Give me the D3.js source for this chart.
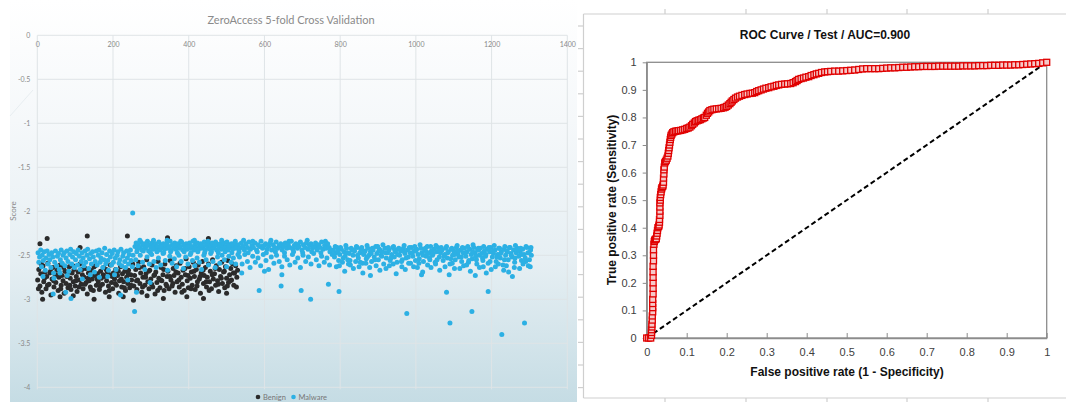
<!DOCTYPE html>
<html><head><meta charset="utf-8">
<script src="https://cdn.jsdelivr.net/npm/d3@7"></script>
<style>body{margin:0;background:#fff}svg{display:block}</style>
</head><body>
<svg id="c" width="1066" height="402"></svg>
<script>
// ---------- Left chart data ----------
const leftTitle = "ZeroAccess 5-fold Cross Validation";
const indexTicks = [0,200,400,600,800,1000,1200,1400];
const scoreTicks = [0,-0.5,-1,-1.5,-2,-2.5,-3,-3.5,-4];
const seriesNames = ["Benign","Malware"];

const benign = [
[1,-2.78],[4,-2.66],[7,-2.85],[9,-2.71],[12,-2.92],[15,-2.62],[17,-2.80],[20,-2.69],[23,-2.88],[25,-2.74],[28,-2.59],[31,-2.83],[33,-2.70],[36,-2.95],[39,-2.77],[41,-2.64],[44,-2.86],[47,-2.72],[49,-2.81],[52,-2.67],[55,-2.90],[57,-2.75],[60,-2.61],[63,-2.84],[65,-2.73],[68,-2.79],[71,-2.93],[73,-2.68],[76,-2.82],[79,-2.71],[81,-2.87],[84,-2.63],[87,-2.76],[89,-2.89],[92,-2.70],[95,-2.80],[97,-2.66],[100,-2.85],[103,-2.74],[105,-2.91],[108,-2.69],[111,-2.78],[113,-2.60],[116,-2.83],[119,-2.72],[121,-2.88],[124,-2.75],[127,-2.65],[129,-2.81],[132,-2.94],[135,-2.70],[137,-2.79],[140,-2.86],[143,-2.67],[145,-2.77],[148,-2.90],[151,-2.73],[153,-2.62],[156,-2.84],[159,-2.71],[161,-2.80],[164,-2.89],[167,-2.68],[169,-2.76],[172,-2.83],[175,-2.64],[177,-2.74],[180,-2.92],[183,-2.79],[185,-2.69],[188,-2.85],[191,-2.72],[193,-2.61],[196,-2.81],[199,-2.88],[201,-2.70],[204,-2.77],[207,-2.66],[209,-2.84],[212,-2.73],[215,-2.93],[217,-2.79],[220,-2.63],[223,-2.86],[225,-2.71],[228,-2.80],[231,-2.68],[233,-2.90],[236,-2.75],[239,-2.82],[241,-2.67],[244,-2.87],[247,-2.72],[249,-2.78],[252,-2.60],
[255,-2.85],[257,-2.73],[260,-2.66],[263,-2.89],[265,-2.78],[268,-2.58],[271,-2.82],[273,-2.70],[276,-2.92],[279,-2.75],[281,-2.63],[284,-2.84],[287,-2.71],[289,-2.55],[292,-2.80],[295,-2.88],[297,-2.67],[300,-2.77],[303,-2.61],[305,-2.86],[308,-2.73],[311,-2.94],[313,-2.69],[316,-2.81],[319,-2.57],[321,-2.76],[324,-2.87],[327,-2.64],[329,-2.79],[332,-2.72],[335,-2.90],[337,-2.60],[340,-2.83],[343,-2.74],[345,-2.68],[348,-2.88],[351,-2.56],[353,-2.78],[356,-2.85],[359,-2.65],[361,-2.73],[364,-2.92],[367,-2.62],[369,-2.80],[372,-2.70],[375,-2.86],[377,-2.59],[380,-2.75],[383,-2.83],[385,-2.67],[388,-2.90],[391,-2.72],[393,-2.54],[396,-2.79],[399,-2.87],[401,-2.63],[404,-2.76],[407,-2.69],[409,-2.84],[412,-2.58],[415,-2.74],[417,-2.89],[420,-2.66],[423,-2.80],[425,-2.61],[428,-2.77],[431,-2.93],[433,-2.70],[436,-2.57],[439,-2.82],[441,-2.73],[444,-2.64],[447,-2.86],[449,-2.75],[452,-2.60],[455,-2.80],[457,-2.68],[460,-2.88],[463,-2.55],[465,-2.77],[468,-2.71],[471,-2.84],[473,-2.62],[476,-2.79],[479,-2.91],[481,-2.66],[484,-2.74],[487,-2.58],[489,-2.82],[492,-2.69],[495,-2.87],[497,-2.63],[500,-2.76],[503,-2.56],[505,-2.81],[508,-2.72],[511,-2.65],[513,-2.78],[516,-2.60],[519,-2.84],[521,-2.70],[524,-2.62],[527,-2.75],[529,-2.67],
[3,-2.88],[10,-2.60],[19,-2.76],[27,-2.84],[35,-2.68],[43,-2.79],[54,-2.73],[62,-2.88],[70,-2.64],[78,-2.74],[86,-2.84],[94,-2.62],[102,-2.79],[110,-2.86],[118,-2.66],[126,-2.83],[134,-2.76],[142,-2.89],[150,-2.63],[158,-2.77],[166,-2.85],[174,-2.72],[182,-2.66],[190,-2.90],[198,-2.74],[206,-2.82],[214,-2.68],[222,-2.77],[230,-2.87],[240,-2.71],[248,-2.84],[262,-2.79],[270,-2.64],[278,-2.86],[286,-2.75],[294,-2.68],[302,-2.83],[310,-2.72],[318,-2.90],[326,-2.78],[334,-2.66],[342,-2.85],[350,-2.74],[358,-2.82],[366,-2.69],[374,-2.78],[382,-2.92],[390,-2.65],[398,-2.73],[406,-2.88],[414,-2.68],[422,-2.85],[430,-2.74],[438,-2.67],[446,-2.80],[454,-2.90],[462,-2.72],[470,-2.65],[478,-2.83],[486,-2.76],[494,-2.68],[502,-2.85],[510,-2.79],[518,-2.70],[526,-2.86],
[7,-2.37],[26,-2.31],[113,-2.41],[132,-2.28],[238,-2.28],[344,-2.30],[452,-2.31],[14,-3.0],[150,-3.0],[254,-3.01],[227,-2.97],[333,-2.99],[439,-2.99],[60,-2.97],[95,-2.96],[190,-2.97],[290,-2.96],[395,-2.97],[500,-2.93]
];

const malware = [
[2,-2.47],[4,-2.58],[6,-2.52],[9,-2.44],[11,-2.63],[13,-2.50],[16,-2.56],[18,-2.46],[21,-2.67],[23,-2.53],[26,-2.45],[28,-2.60],[31,-2.49],[33,-2.55],[36,-2.64],[38,-2.47],[41,-2.52],[43,-2.70],[46,-2.58],[48,-2.45],[51,-2.62],[53,-2.51],[56,-2.48],[58,-2.66],[61,-2.55],[63,-2.44],[66,-2.59],[68,-2.50],[71,-2.47],[73,-2.62],[76,-2.53],[78,-2.45],[81,-2.57],[83,-2.68],[86,-2.49],[88,-2.43],[91,-2.60],[93,-2.52],[96,-2.46],[98,-2.64],[101,-2.55],[103,-2.48],[106,-2.61],[108,-2.44],[111,-2.51],[113,-2.66],[116,-2.57],[118,-2.47],[121,-2.53],[123,-2.62],[126,-2.45],[128,-2.58],[131,-2.50],[133,-2.43],[136,-2.65],[138,-2.54],[141,-2.48],[143,-2.60],[146,-2.46],[148,-2.52],[151,-2.69],[153,-2.57],[156,-2.45],[158,-2.61],[161,-2.50],[163,-2.44],[166,-2.58],[168,-2.53],[171,-2.47],[173,-2.64],[176,-2.55],[178,-2.42],[181,-2.60],[183,-2.49],[186,-2.56],[188,-2.67],[191,-2.45],[193,-2.52],[196,-2.61],[198,-2.48],[201,-2.58],[203,-2.44],[206,-2.53],[208,-2.66],[211,-2.50],[213,-2.46],[216,-2.59],[218,-2.55],[221,-2.43],[223,-2.62],[226,-2.51],[228,-2.47],[231,-2.57],[233,-2.64],[236,-2.45],[238,-2.53],[241,-2.60],[243,-2.49],[246,-2.44],[248,-2.56],[251,-2.63],[253,-2.50],
[15,-2.74],[44,-2.76],[79,-2.73],[119,-2.77],[164,-2.75],[204,-2.72],[239,-2.78],[60,-2.70],[140,-2.72],[186,-2.74],
[42,-2.94],[89,-2.99],[75,-2.92],[220,-2.95],[262,-2.92],[252,-2.02],[257,-3.14],[298,-2.81],
[258,-2.40],[261,-2.36],[264,-2.43],[267,-2.38],[270,-2.41],[273,-2.35],[276,-2.44],[279,-2.39],[282,-2.37],[285,-2.42],[288,-2.40],[291,-2.34],[294,-2.45],[297,-2.38],[300,-2.41],[303,-2.36],[306,-2.43],[309,-2.39],[312,-2.37],[315,-2.42],[318,-2.40],[321,-2.35],[324,-2.44],[327,-2.38],[330,-2.41],[333,-2.37],[336,-2.43],[339,-2.39],[342,-2.36],[345,-2.42],[348,-2.40],[351,-2.34],[354,-2.44],[357,-2.38],[360,-2.41],[363,-2.36],[366,-2.43],[369,-2.39],[372,-2.37],[375,-2.42],[378,-2.40],[381,-2.35],[384,-2.44],[387,-2.38],[390,-2.41],[393,-2.37],[396,-2.43],[399,-2.39],[402,-2.36],[405,-2.42],[408,-2.40],[411,-2.34],[414,-2.44],[417,-2.38],[420,-2.41],[423,-2.36],[426,-2.43],[429,-2.39],[432,-2.37],[435,-2.42],[438,-2.40],[441,-2.35],[444,-2.44],[447,-2.38],[450,-2.41],[453,-2.37],[456,-2.43],[459,-2.39],[462,-2.36],[465,-2.42],[468,-2.40],[471,-2.35],[474,-2.44],[477,-2.38],[480,-2.41],[483,-2.37],[486,-2.43],[489,-2.39],[492,-2.36],[495,-2.42],[498,-2.40],[501,-2.35],[504,-2.44],[507,-2.38],[510,-2.41],[513,-2.37],[516,-2.43],[519,-2.39],[522,-2.36],[525,-2.42],[528,-2.40],
[263,-2.46],[271,-2.33],[280,-2.45],[289,-2.38],[299,-2.47],[307,-2.33],[316,-2.46],[325,-2.40],[334,-2.47],[343,-2.33],[352,-2.46],[361,-2.39],[370,-2.47],[379,-2.34],[388,-2.46],[397,-2.40],[406,-2.47],[415,-2.33],[424,-2.46],[433,-2.39],[442,-2.47],[451,-2.34],[460,-2.46],[469,-2.38],[478,-2.47],[487,-2.33],[496,-2.46],[505,-2.39],[514,-2.47],[523,-2.34],[533,-2.46],[545,-2.33],[557,-2.47],[569,-2.34],[581,-2.46],[593,-2.40],[605,-2.47],[617,-2.33],[629,-2.46],[641,-2.40],[653,-2.47],[665,-2.34],[677,-2.46],[689,-2.39],[701,-2.47],[713,-2.33],[725,-2.46],[737,-2.40],[749,-2.47],[761,-2.34],[773,-2.46],
[260,-2.55],[266,-2.62],[272,-2.50],[278,-2.58],[284,-2.66],[290,-2.52],[296,-2.60],[302,-2.49],[308,-2.57],[314,-2.64],[320,-2.53],[326,-2.61],[332,-2.48],[338,-2.56],[344,-2.67],[350,-2.51],[356,-2.59],[362,-2.54],[368,-2.63],[374,-2.50],[380,-2.57],[386,-2.65],[392,-2.52],[398,-2.60],[404,-2.49],[410,-2.56],[416,-2.62],[422,-2.53],[428,-2.58],[434,-2.66],[440,-2.50],[446,-2.55],[452,-2.61],[458,-2.48],[464,-2.57],[470,-2.64],[476,-2.52],[482,-2.59],[488,-2.50],[494,-2.55],[500,-2.63],[506,-2.51],[512,-2.58],[518,-2.53],[524,-2.60],[530,-2.49],
[531,-2.38],[535,-2.42],[539,-2.36],[543,-2.40],[547,-2.44],[551,-2.37],[555,-2.41],[559,-2.35],[563,-2.43],[567,-2.39],[571,-2.41],[575,-2.36],[579,-2.44],[583,-2.38],[587,-2.40],[591,-2.34],[595,-2.42],[599,-2.39],[603,-2.37],[607,-2.43],[611,-2.40],[615,-2.36],[619,-2.44],[623,-2.38],[627,-2.41],[631,-2.35],[635,-2.42],[639,-2.39],[643,-2.37],[647,-2.44],[651,-2.40],[655,-2.36],[659,-2.42],[663,-2.38],[667,-2.41],[671,-2.34],[675,-2.43],[679,-2.39],[683,-2.37],[687,-2.42],[691,-2.40],[695,-2.35],[699,-2.44],[703,-2.38],[707,-2.41],[711,-2.36],[715,-2.43],[719,-2.39],[723,-2.37],[727,-2.42],[731,-2.40],[735,-2.36],[739,-2.44],[743,-2.38],[747,-2.41],[751,-2.35],[755,-2.43],[759,-2.39],[763,-2.42],[767,-2.37],[771,-2.41],[775,-2.44],
[534,-2.52],[541,-2.60],[548,-2.49],[555,-2.57],[562,-2.64],[569,-2.51],[576,-2.58],[583,-2.53],[590,-2.62],[597,-2.49],[604,-2.56],[611,-2.66],[618,-2.52],[625,-2.59],[632,-2.50],[639,-2.57],[646,-2.63],[653,-2.51],[660,-2.55],[667,-2.61],[674,-2.49],[681,-2.58],[688,-2.53],[695,-2.64],[702,-2.50],[709,-2.57],[716,-2.52],[723,-2.60],[730,-2.48],[737,-2.55],[744,-2.62],[751,-2.51],[758,-2.58],[765,-2.53],[772,-2.61],[779,-2.49],
[586,-2.90],[644,-2.85],[646,-2.72],[697,-2.90],[722,-3.0],[769,-2.83],[797,-2.91],[600,-2.68],[540,-2.70],
[782,-2.44],[785,-2.52],[789,-2.47],[792,-2.41],[796,-2.56],[799,-2.49],[803,-2.43],[806,-2.58],[810,-2.46],[813,-2.51],[817,-2.42],[820,-2.55],[824,-2.48],[827,-2.61],[831,-2.44],[834,-2.50],[838,-2.45],[841,-2.57],[845,-2.41],[848,-2.53],[852,-2.47],[855,-2.43],[859,-2.59],[862,-2.49],[866,-2.45],[869,-2.54],[873,-2.42],[876,-2.50],[880,-2.46],[883,-2.57],[887,-2.44],[890,-2.52],[894,-2.40],[897,-2.48],[901,-2.55],[904,-2.43],[908,-2.50],[911,-2.46],[915,-2.60],[918,-2.42],[922,-2.53],[925,-2.47],[929,-2.44],[932,-2.56],[936,-2.49],[939,-2.41],[943,-2.52],[946,-2.46],[950,-2.58],[953,-2.43],[957,-2.50],[960,-2.45],[964,-2.55],[967,-2.42],[971,-2.48],[974,-2.53],[978,-2.44],[981,-2.59],[985,-2.47],[988,-2.41],[992,-2.51],[995,-2.45],[999,-2.56],[1002,-2.43],[1006,-2.49],[1009,-2.54],[1013,-2.42],[1016,-2.47],[1020,-2.57],[1023,-2.44],[1027,-2.51],[1030,-2.40],[1034,-2.48],[1037,-2.55],[1041,-2.45],[1044,-2.50],[1048,-2.43],[1051,-2.58],[1055,-2.46],[1058,-2.41],[1062,-2.52],[1065,-2.47],[1069,-2.44],[1072,-2.56],[1076,-2.49],[1079,-2.42],[1083,-2.53],[1086,-2.46],[1090,-2.60],[1093,-2.43],[1097,-2.50],[1100,-2.45],[1104,-2.55],[1107,-2.41],[1111,-2.48],[1114,-2.52],[1118,-2.44],[1121,-2.57],[1125,-2.47],[1128,-2.42],[1132,-2.51],[1135,-2.46],[1139,-2.58],[1142,-2.43],[1146,-2.49],[1149,-2.54],[1153,-2.41],[1156,-2.47],[1160,-2.55],[1163,-2.44],[1167,-2.50],[1170,-2.42],[1174,-2.48],[1177,-2.56],[1181,-2.45],[1184,-2.51],[1188,-2.43],[1191,-2.59],[1195,-2.46],[1198,-2.41],[1202,-2.52],[1205,-2.48],[1209,-2.44],[1212,-2.57],[1216,-2.49],[1219,-2.42],[1223,-2.53],[1226,-2.46],[1230,-2.61],[1233,-2.43],[1237,-2.50],[1240,-2.45],[1244,-2.55],[1247,-2.41],[1251,-2.48],[1254,-2.52],[1258,-2.44],[1261,-2.58],[1265,-2.47],[1268,-2.42],[1272,-2.51],[1275,-2.46],[1279,-2.56],[1282,-2.43],[1286,-2.49],[1289,-2.53],[1293,-2.41],[1296,-2.47],[1300,-2.55],[1303,-2.44],[1305,-2.50],
[787,-2.40],[801,-2.41],[815,-2.39],[829,-2.42],[843,-2.40],[857,-2.41],[871,-2.39],[885,-2.42],[899,-2.40],[913,-2.38],[927,-2.41],[941,-2.40],[955,-2.42],[969,-2.39],[983,-2.41],[997,-2.40],[1011,-2.38],[1025,-2.42],[1039,-2.40],[1053,-2.39],[1067,-2.41],[1081,-2.40],[1095,-2.42],[1109,-2.39],[1123,-2.41],[1137,-2.40],[1151,-2.38],[1165,-2.42],[1179,-2.40],[1193,-2.41],[1207,-2.39],[1221,-2.42],[1235,-2.40],[1249,-2.41],[1263,-2.39],[1277,-2.42],[1291,-2.40],[1304,-2.41],
[784,-2.49],[794,-2.45],[808,-2.53],[819,-2.47],[826,-2.56],[836,-2.44],[846,-2.50],[853,-2.58],[864,-2.46],[872,-2.52],[882,-2.48],[892,-2.55],[902,-2.45],[910,-2.51],[920,-2.47],[934,-2.53],[944,-2.44],[952,-2.49],[962,-2.57],[970,-2.46],[980,-2.52],[990,-2.48],[1000,-2.45],[1008,-2.59],[1019,-2.50],[1028,-2.46],[1036,-2.53],[1046,-2.48],[1056,-2.55],[1064,-2.44],[1074,-2.51],[1084,-2.47],[1092,-2.54],[1103,-2.49],[1112,-2.45],[1120,-2.52],[1130,-2.48],[1140,-2.56],[1150,-2.46],[1158,-2.51],[1166,-2.44],[1176,-2.53],[1185,-2.49],[1196,-2.57],[1204,-2.45],[1214,-2.52],[1224,-2.48],[1234,-2.55],[1242,-2.46],[1252,-2.50],[1262,-2.53],[1270,-2.44],[1280,-2.49],[1290,-2.57],[1299,-2.47],
[798,-2.62],[822,-2.60],[850,-2.63],[868,-2.59],[895,-2.62],[921,-2.65],[940,-2.60],[963,-2.63],[986,-2.59],[1004,-2.64],[1031,-2.61],[1052,-2.60],[1077,-2.63],[1096,-2.59],[1116,-2.65],[1134,-2.61],[1161,-2.60],[1178,-2.63],[1199,-2.66],[1218,-2.60],[1239,-2.62],[1260,-2.64],[1283,-2.60],[1302,-2.63],
[790,-2.63],[812,-2.68],[835,-2.65],[860,-2.70],[878,-2.64],[905,-2.67],[930,-2.62],[948,-2.71],[972,-2.66],[994,-2.63],[1018,-2.69],[1040,-2.64],[1063,-2.67],[1088,-2.72],[1102,-2.65],[1126,-2.62],[1144,-2.68],[1168,-2.64],[1186,-2.70],[1210,-2.63],[1232,-2.67],[1255,-2.74],[1274,-2.65],[1297,-2.62],[1245,-2.69],[1157,-2.73],[1015,-2.72],[880,-2.73],
[976,-3.16],[1081,-2.92],[1090,-3.27],[1148,-3.14],[1191,-2.91],[1227,-3.40],[1287,-3.27]
];

// ---------- Right chart data ----------
const rocTitle = "ROC Curve / Test / AUC=0.900";
const rocTicks = [0,0.1,0.2,0.3,0.4,0.5,0.6,0.7,0.8,0.9,1];
const rocFPR = [0,0.005,0.010,0.012,0.012,0.012,0.013,0.013,0.014,0.014,0.015,0.015,0.015,0.015,0.016,0.016,0.016,0.016,0.016,0.016,0.017,0.017,0.017,0.018,0.019,0.020,0.022,0.024,0.025,0.026,0.027,0.028,0.030,0.031,0.032,0.032,0.033,0.033,0.033,0.033,0.034,0.034,0.035,0.036,0.037,0.038,0.040,0.041,0.042,0.042,0.043,0.043,0.044,0.045,0.047,0.049,0.051,0.053,0.054,0.055,0.056,0.057,0.058,0.059,0.060,0.061,
0.063,0.065,0.068,0.072,0.076,0.080,0.085,0.090,0.095,0.100,0.104,0.108,0.112,0.115,0.119,0.122,0.126,0.130,0.134,0.138,0.142,0.145,0.149,0.152,0.155,0.158,0.163,0.168,0.174,0.180,0.186,0.192,0.196,0.200,0.204,0.208,0.211,0.214,0.218,0.222,0.227,0.232,0.238,0.245,0.251,0.258,0.264,0.270,0.275,0.280,0.286,0.292,0.298,0.305,0.311,0.318,0.324,0.330,0.337,0.345,0.352,0.360,0.366,0.372,0.376,0.380,0.386,0.392,0.398,0.405,0.411,0.418,0.424,0.430,0.437,0.445,0.452,0.460,0.470,0.480,0.490,0.500,0.510,0.520,0.530,0.540,0.550,0.560,0.570,0.580,0.590,0.600,0.610,0.620,0.630,0.640,0.650,0.660,0.670,0.680,0.690,0.700,0.710,0.720,0.730,0.740,0.750,0.760,0.770,0.780,0.790,0.800,0.810,0.820,0.830,0.840,0.850,0.860,0.870,0.880,0.890,0.900,0.910,0.920,0.930,0.940,0.950,0.960,0.970,0.980,0.990,1.000];
const rocTPR = [0,0,0,0.01,0.02,0.03,0.04,0.05,0.065,0.08,0.095,0.11,0.125,0.14,0.16,0.18,0.20,0.22,0.24,0.26,0.28,0.30,0.32,0.34,0.35,0.355,0.358,0.36,0.37,0.38,0.39,0.40,0.405,0.41,0.42,0.43,0.445,0.46,0.475,0.49,0.50,0.51,0.52,0.53,0.54,0.545,0.55,0.555,0.565,0.58,0.595,0.61,0.62,0.635,0.64,0.645,0.652,0.66,0.67,0.68,0.69,0.70,0.71,0.72,0.728,0.735,
0.74,0.745,0.748,0.75,0.751,0.752,0.753,0.755,0.757,0.76,0.762,0.765,0.77,0.775,0.78,0.785,0.788,0.79,0.792,0.795,0.798,0.80,0.808,0.815,0.82,0.825,0.828,0.83,0.831,0.832,0.833,0.835,0.837,0.84,0.845,0.85,0.855,0.86,0.865,0.87,0.874,0.877,0.880,0.883,0.885,0.887,0.888,0.89,0.894,0.897,0.900,0.903,0.906,0.908,0.911,0.913,0.916,0.918,0.920,0.921,0.922,0.923,0.926,0.93,0.934,0.938,0.941,0.943,0.946,0.948,0.952,0.955,0.958,0.96,0.963,0.965,0.966,0.967,0.968,0.968,0.969,0.97,0.971,0.972,0.974,0.976,0.977,0.977,0.977,0.977,0.978,0.979,0.98,0.98,0.981,0.982,0.982,0.983,0.984,0.984,0.985,0.985,0.985,0.985,0.986,0.986,0.986,0.986,0.986,0.986,0.987,0.987,0.987,0.987,0.988,0.988,0.988,0.989,0.989,0.989,0.990,0.990,0.990,0.991,0.991,0.992,0.993,0.994,0.995,0.996,0.998,1.000];
const rocXLabel = "False positive rate (1 - Specificity)";
const rocYLabel = "True positive rate (Sensitivity)";

const svg = d3.select("#c");
const defs = svg.append("defs");

// ================= LEFT PANEL =================
const grad = defs.append("linearGradient").attr("id","lg").attr("x1",0).attr("y1",0).attr("x2",0).attr("y2",1);
grad.append("stop").attr("offset","0%").attr("stop-color","#ffffff");
grad.append("stop").attr("offset","30%").attr("stop-color","#f5f8fa");
grad.append("stop").attr("offset","65%").attr("stop-color","#e6eff3");
grad.append("stop").attr("offset","100%").attr("stop-color","#c5dce4");
svg.append("rect").attr("x",10).attr("y",0).attr("width",567).attr("height",402).attr("fill","url(#lg)");
svg.append("line").attr("x1",10).attr("y1",116).attr("x2",33).attr("y2",90).attr("stroke","#e8eef1").attr("stroke-width",1);

const lx = d3.scaleLinear().domain([0,1400]).range([37.3,567.3]);
const ly = d3.scaleLinear().domain([0,-4]).range([35.3,387.3]);
const lfont = "Lato, 'Open Sans', sans-serif";

const lg = svg.append("g");
lg.selectAll(".vg").data(indexTicks).join("line")
  .attr("x1",d=>lx(d)).attr("x2",d=>lx(d)).attr("y1",ly(0)).attr("y2",ly(-4)+2)
  .attr("stroke","#dfe4e7").attr("stroke-width",1);
lg.selectAll(".hg").data(scoreTicks).join("line")
  .attr("x1",lx(0)).attr("x2",lx(1400)).attr("y1",d=>ly(d)).attr("y2",d=>ly(d))
  .attr("stroke","#dfe4e7").attr("stroke-width",1);

const lxAxis = svg.append("g").attr("transform",`translate(0,${ly(0)})`)
  .call(d3.axisBottom(lx).tickValues(indexTicks).tickSize(0).tickPadding(7).tickFormat(d=>String(d)));
const lyAxis = svg.append("g").attr("transform",`translate(${lx(0)},0)`)
  .call(d3.axisLeft(ly).tickValues(scoreTicks).tickSize(0).tickPadding(7).tickFormat(d=>String(d)));
[lxAxis,lyAxis].forEach(a=>{
  a.select(".domain").remove();
  a.selectAll("text").attr("fill","#8a8a8a").style("font-family",lfont).style("font-size","7px");
});

svg.append("text").attr("x",291).attr("y",24).attr("text-anchor","middle")
  .style("font-family",lfont).style("font-size","11px").attr("fill","#8a8a8a").text(leftTitle);
svg.append("text").attr("transform","translate(16,211) rotate(-90)").attr("text-anchor","middle")
  .style("font-family",lfont).style("font-size","8px").attr("fill","#8a8a8a").text("Score");

const colors = {Benign:"#2b2b2b", Malware:"#2cb0e4"};
svg.append("g").selectAll("circle").data(benign).join("circle")
  .attr("cx",d=>lx(d[0])).attr("cy",d=>ly(d[1])).attr("r",2.5).attr("fill",colors.Benign);
svg.append("g").selectAll("circle").data(malware).join("circle")
  .attr("cx",d=>lx(d[0])).attr("cy",d=>ly(d[1])).attr("r",2.5).attr("fill",colors.Malware);

const legX = [258, 293.5];
seriesNames.forEach((n,i)=>{
  svg.append("circle").attr("cx",legX[i]).attr("cy",397).attr("r",2.3).attr("fill",colors[n]);
  svg.append("text").attr("x",legX[i]+5).attr("y",399.5).style("font-family",lfont).style("font-size","7.5px")
    .attr("fill","#777").text(n);
});

// ================= FRAME FRAGMENTS =================
const fr = svg.append("g").attr("stroke","#cfcfcf").attr("stroke-width",1.2).attr("fill","none");
fr.append("line").attr("x1",583.5).attr("x2",583.5).attr("y1",14).attr("y2",398);
fr.append("line").attr("x1",583.5).attr("x2",1066).attr("y1",14).attr("y2",14);
fr.append("line").attr("x1",583.5).attr("x2",1066).attr("y1",398).attr("y2",398);
d3.range(17).forEach(i=>{ const yy = 26 + i*22.6; fr.append("line").attr("x1",578).attr("x2",583.5).attr("y1",yy).attr("y2",yy); });
[665,746,827,907,988].forEach(xx=>{
  fr.append("line").attr("x1",xx).attr("x2",xx).attr("y1",9).attr("y2",14);
  fr.append("line").attr("x1",xx).attr("x2",xx).attr("y1",398).attr("y2",402);
});

// ================= RIGHT PANEL (ROC) =================
const rx = d3.scaleLinear().domain([0,1]).range([646.7,1046.7]);
const ry = d3.scaleLinear().domain([0,1]).range([338,62.3]);
const rfont = "'Liberation Sans', Arial, sans-serif";

svg.append("rect").attr("x",rx(0)).attr("y",ry(1)).attr("width",rx(1)-rx(0)).attr("height",ry(0)-ry(1))
  .attr("fill","none").attr("stroke","#8c8c8c").attr("stroke-width",1.3);

const rxAxis = svg.append("g").attr("transform",`translate(0,${ry(0)})`)
  .call(d3.axisBottom(rx).tickValues(rocTicks).tickSizeInner(-5).tickSizeOuter(0).tickPadding(10).tickFormat(d=>String(d)));
const ryAxis = svg.append("g").attr("transform",`translate(${rx(0)},0)`)
  .call(d3.axisLeft(ry).tickValues(rocTicks).tickSizeInner(4).tickSizeOuter(0).tickPadding(6).tickFormat(d=>String(d)));
[rxAxis,ryAxis].forEach(a=>{
  a.select(".domain").attr("stroke","#8c8c8c").attr("stroke-width",1.3);
  a.selectAll(".tick line").attr("stroke","#8c8c8c").attr("stroke-width",1);
  a.selectAll("text").attr("fill","#404040").style("font-family",rfont).style("font-size","11px");
});

svg.append("line").attr("x1",rx(0)).attr("y1",ry(0)).attr("x2",rx(1)).attr("y2",ry(1))
  .attr("stroke","#000").attr("stroke-width",2).attr("stroke-dasharray","5,3");

const rocPts = rocFPR.map((f,i)=>[f,rocTPR[i]]);
svg.append("path").datum(rocPts)
  .attr("d",d3.line().x(d=>rx(d[0])).y(d=>ry(d[1])))
  .attr("fill","none").attr("stroke","#e00000").attr("stroke-width",4);
svg.append("g").selectAll("rect").data(rocPts).join("rect")
  .attr("x",d=>rx(d[0])-3).attr("y",d=>ry(d[1])-3).attr("width",6).attr("height",6)
  .attr("fill","#f6c8c8").attr("stroke","#e00000").attr("stroke-width",1.3);

svg.append("text").attr("x",825).attr("y",39).attr("text-anchor","middle")
  .style("font-family",rfont).style("font-size","12px").style("font-weight","bold").attr("fill","#111").text(rocTitle);
svg.append("text").attr("x",847).attr("y",376).attr("text-anchor","middle")
  .style("font-family",rfont).style("font-size","12px").style("font-weight","bold").attr("fill","#111").text(rocXLabel);
svg.append("text").attr("transform","translate(616,200) rotate(-90)").attr("text-anchor","middle")
  .style("font-family",rfont).style("font-size","12px").style("font-weight","bold").attr("fill","#111").text(rocYLabel);
</script>
</body></html>
